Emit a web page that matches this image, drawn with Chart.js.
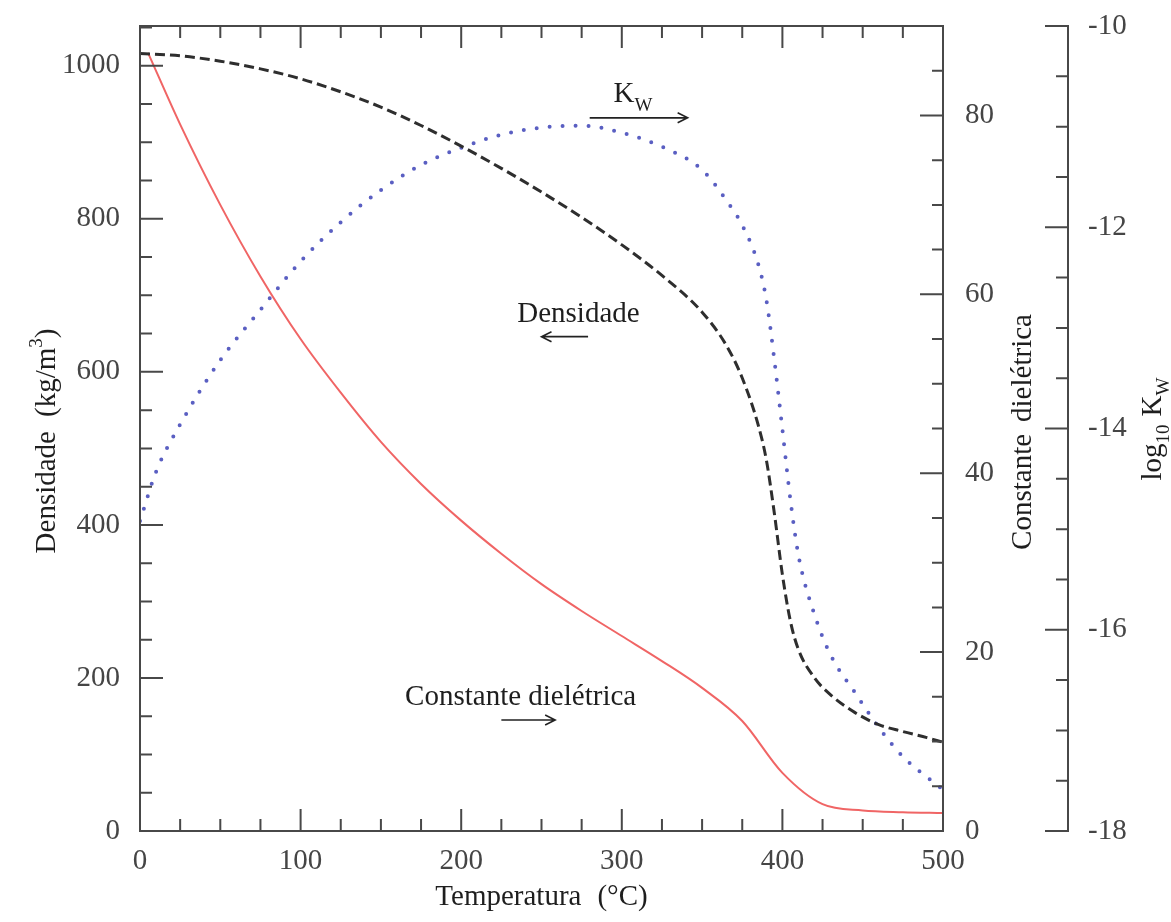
<!DOCTYPE html>
<html><head><meta charset="utf-8">
<script src="https://cdn.jsdelivr.net/npm/chart.js@4.4.0/dist/chart.umd.min.js"></script>
<style>html,body{margin:0;padding:0;background:#fff;}canvas{display:block;}</style>
</head><body>
<canvas id="c" width="1171" height="922"></canvas>
<script>
// ---- tick labels ----
const temperatureTicks = [0, 100, 200, 300, 400, 500];
const densityTicks = [0, 200, 400, 600, 800, 1000];
const dielectricTicks = [0, 20, 40, 60, 80];
const logKwTicks = [-18, -16, -14, -12, -10];

// ---- series: density (kg/m3) ----
const densityTemp   = [0, 25, 50, 75, 100, 125, 150, 175, 200, 225, 250, 275, 300, 325, 350, 365, 375, 385, 390, 395, 400, 405, 410, 420, 430, 445, 460, 475, 490, 500];
const densityValues = [1016, 1013, 1006, 996, 983, 966, 946, 922, 895, 866, 835, 802, 766, 726, 678, 635, 592, 530, 485, 415, 335, 274, 237, 200, 178, 155, 139, 130, 122, 116];

// ---- series: dielectric constant ----
const dielectricTemp   = [5, 25, 50, 75, 100, 125, 150, 175, 200, 225, 250, 275, 300, 325, 350, 375, 400, 425, 450, 475, 500];
const dielectricValues = [87, 79, 70, 62, 55, 49, 43.5, 38.8, 34.7, 31.0, 27.6, 24.6, 21.8, 19, 16, 12.3, 6.5, 3.0, 2.3, 2.1, 2.0];

// ---- series: log10 Kw ----
const kwTemp      = [0, 10, 25, 50, 75, 100, 125, 150, 175, 200, 225, 250, 275, 300, 325, 350, 365, 375, 385, 390, 395, 400, 405, 410, 420, 430, 445, 460, 475, 500];
const logKwValues = [-14.92, -14.43, -13.96, -13.32, -12.82, -12.34, -11.95, -11.63, -11.38, -11.21, -11.08, -11.01, -10.99, -11.06, -11.2, -11.43, -11.73, -11.98, -12.37, -12.72, -13.32, -14.01, -14.71, -15.26, -15.85, -16.25, -16.62, -16.97, -17.26, -17.59];

// ---- in-plot labels (temperature, density) ----
const labelNotes = [
  {parts: [{t: 'K'}, {t: 'W', small: true, dy: 9}], x: 307, y: 953, arrowFrom: [280, 932], arrowTo: [341, 932]},
  {parts: [{t: 'Densidade'}], x: 273, y: 665, arrowFrom: [279, 646], arrowTo: [250, 646]},
  {parts: [{t: 'Constante dielétrica'}], x: 237, y: 165, arrowFrom: [225, 145], arrowTo: [258.5, 145]}
];

const SERIF = '"Liberation Serif", "Times New Roman", "DejaVu Serif", serif';
const tickFont = {family: SERIF, size: 29};
const tickColor = '#454545';

function drawRich(ctx, parts, x, y, size, rotate) {
  ctx.save();
  ctx.translate(x, y);
  if (rotate) ctx.rotate(-Math.PI / 2);
  ctx.textAlign = 'left';
  ctx.textBaseline = 'alphabetic';
  let total = 0;
  const widths = parts.map(p => {
    ctx.font = (p.small ? Math.round(size * 0.66) : size) + 'px ' + SERIF;
    const w = ctx.measureText(p.t).width + (p.gap || 0);
    total += w;
    return w;
  });
  let cx = -total / 2;
  parts.forEach((p, i) => {
    ctx.font = (p.small ? Math.round(size * 0.66) : size) + 'px ' + SERIF;
    ctx.fillText(p.t, cx + (p.gap || 0), p.dy || 0);
    cx += widths[i];
  });
  ctx.restore();
}

function arrow(ctx, x1, y1, x2, y2) {
  ctx.beginPath();
  ctx.moveTo(x1, y1); ctx.lineTo(x2, y2);
  const dir = Math.sign(x2 - x1);
  ctx.moveTo(x2 - dir * 10, y2 - 5); ctx.lineTo(x2, y2); ctx.lineTo(x2 - dir * 10, y2 + 5);
  ctx.stroke();
}

const framePlugin = {
  id: 'frame',
  afterDatasetsDraw(chart) {
    const {ctx, chartArea: a, scales} = chart;
    ctx.save();
    ctx.strokeStyle = '#484848';
    ctx.lineWidth = 2;
    ctx.lineCap = 'butt';
    ctx.strokeRect(a.left, a.top, a.right - a.left, a.bottom - a.top);
    ctx.beginPath();
    for (let i = 1; i < 20; i++) {
      const px = scales.x.getPixelForValue(i * 25);
      const len = (i % 4 === 0) ? 22 : 12;
      ctx.moveTo(px, a.bottom); ctx.lineTo(px, a.bottom - len);
      ctx.moveTo(px, a.top); ctx.lineTo(px, a.top + len);
    }
    for (let i = 1; i <= 21; i++) {
      const py = scales.y.getPixelForValue(i * 50);
      const len = (i % 4 === 0) ? 23 : 12;
      ctx.moveTo(a.left, py); ctx.lineTo(a.left + len, py);
    }
    for (let i = 1; i < 18; i++) {
      const py = scales.y1.getPixelForValue(i * 5);
      const len = (i % 4 === 0) ? 23 : 11;
      ctx.moveTo(a.right, py); ctx.lineTo(a.right - len, py);
    }
    const ax = scales.y2.left;
    ctx.moveTo(ax, scales.y2.getPixelForValue(-18) + 1);
    ctx.lineTo(ax, scales.y2.getPixelForValue(-10) - 1);
    for (let i = 0; i <= 16; i++) {
      const py = scales.y2.getPixelForValue(-18 + i * 0.5);
      const len = (i % 4 === 0) ? 23 : 12;
      ctx.moveTo(ax, py); ctx.lineTo(ax - len, py);
    }
    ctx.stroke();

    ctx.fillStyle = '#1e1e1e';
    drawRich(ctx, [{t: 'Temperatura'}, {t: '(°C)', gap: 16}], (a.left + a.right) / 2, 905, 29, false);
    drawRich(ctx, [{t: 'Densidade'}, {t: '(kg/m', gap: 14}, {t: '3', small: true, dy: -13}, {t: ')'}], 55, 441, 29, true);
    drawRich(ctx, [{t: 'Constante'}, {t: 'dielétrica', gap: 12}], 1031, 432, 29, true);
    drawRich(ctx, [{t: 'log'}, {t: '10', small: true, dy: 8}, {t: 'K', gap: 8}, {t: 'W', small: true, dy: 8}], 1161, 429, 29, true);

    ctx.strokeStyle = '#222';
    ctx.lineWidth = 1.6;
    labelNotes.forEach(n => {
      drawRich(ctx, n.parts, scales.x.getPixelForValue(n.x), scales.y.getPixelForValue(n.y), 29, false);
      arrow(ctx,
        scales.x.getPixelForValue(n.arrowFrom[0]), scales.y.getPixelForValue(n.arrowFrom[1]),
        scales.x.getPixelForValue(n.arrowTo[0]), scales.y.getPixelForValue(n.arrowTo[1]));
    });
    ctx.restore();
  }
};

const pts = (xs, ys) => xs.map((t, i) => ({x: t, y: ys[i]}));
const fixedTicks = arr => (s => { s.ticks = arr.map(v => ({value: v})); });
const sizes = {top: 26, bottom: 91, left: 140, y1: 125, y2: 103};
const vFit = key => (s => { s.width = sizes[key]; s.paddingTop = 0; s.paddingBottom = 0; });
const plain = v => String(v);

const chart = new Chart(document.getElementById('c'), {
  type: 'line',
  data: {
    datasets: [
      {label: 'Densidade', data: pts(densityTemp, densityValues), yAxisID: 'y',
       borderColor: '#2e2e2e', borderWidth: 3, borderDash: [10, 5], pointRadius: 0, fill: false, cubicInterpolationMode: 'monotone'},
      {label: 'Constante dielétrica', data: pts(dielectricTemp, dielectricValues), yAxisID: 'y1',
       borderColor: '#f06565', borderWidth: 2, pointRadius: 0, fill: false, cubicInterpolationMode: 'monotone'},
      {label: 'log10 Kw', data: pts(kwTemp, logKwValues), yAxisID: 'y2',
       borderColor: '#5a5fc2', borderWidth: 4, borderDash: [0, 13], borderCapStyle: 'round', pointRadius: 0, fill: false, cubicInterpolationMode: 'monotone'}
    ]
  },
  options: {
    responsive: false, animation: false, devicePixelRatio: 1,
    layout: {padding: 0},
    plugins: {legend: {display: false}, tooltip: {enabled: false}},
    scales: {
      x: {type: 'linear', position: 'bottom', min: 0, max: 500,
          grid: {display: false}, border: {display: false},
          ticks: {font: tickFont, color: tickColor, padding: 5, autoSkip: false, maxRotation: 0, callback: plain},
          afterBuildTicks: fixedTicks(temperatureTicks), afterFit: s => { s.height = sizes.bottom; s.paddingLeft = 0; s.paddingRight = 0; }},
      xTop: {type: 'linear', position: 'top', min: 0, max: 500,
          grid: {display: false}, border: {display: false}, ticks: {display: false},
          afterFit: s => { s.height = sizes.top; }},
      y: {type: 'linear', position: 'left', min: 0, max: 1052,
          grid: {display: false}, border: {display: false},
          ticks: {font: tickFont, color: tickColor, padding: 12, autoSkip: false, callback: plain},
          afterBuildTicks: fixedTicks(densityTicks), afterFit: vFit('left')},
      y1: {type: 'linear', position: 'right', weight: 1, min: 0, max: 90,
          grid: {display: false}, border: {display: false},
          ticks: {font: tickFont, color: tickColor, padding: 14, autoSkip: false, callback: plain},
          afterBuildTicks: fixedTicks(dielectricTicks), afterFit: vFit('y1')},
      y2: {type: 'linear', position: 'right', weight: 2, min: -18, max: -10,
          grid: {display: false}, border: {display: false},
          ticks: {font: tickFont, color: tickColor, padding: 12, autoSkip: false, callback: plain},
          afterBuildTicks: fixedTicks(logKwTicks), afterFit: vFit('y2')}
    }
  },
  plugins: [framePlugin]
});
// make sure the plot frame sits where the original has it
const ca = chart.chartArea;
const dTop = 26 - ca.top, dBottom = ca.bottom - 831, dLeft = 140 - ca.left, dRight = ca.right - 943;
if (Math.abs(dTop) + Math.abs(dBottom) + Math.abs(dLeft) + Math.abs(dRight) > 0.5) {
  sizes.top += dTop; sizes.bottom += dBottom; sizes.left += dLeft; sizes.y1 += dRight;
  chart.update();
}
</script>
</body></html>
